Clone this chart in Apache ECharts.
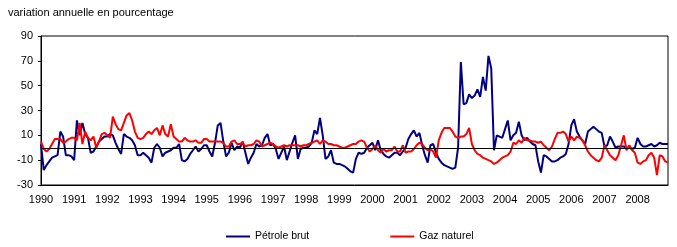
<!DOCTYPE html>
<html>
<head>
<meta charset="utf-8">
<script src="https://cdn.jsdelivr.net/npm/echarts@6/dist/echarts.min.js"></script>
<style>
html,body{margin:0;padding:0;background:#fff;}
#c{width:677px;height:247px;}
</style>
</head>
<body>
<div id="c"></div>
<script>
const title = 'variation annuelle en pourcentage';
const yearLabels = ['1990','1991','1992','1993','1994','1995','1996','1997','1998','1999','2000','2001','2002','2003','2004','2005','2006','2007','2008'];
const monthCodes = ['01','02','03','04','05','06','07','08','09','10','11','12'];
const seriesNames = ['Pétrole brut', 'Gaz naturel'];

// Pétrole brut, monthly, Jan 1990 - Dec 2008
const petrole = [
  3, -18, -14, -11, -8, -7, -6, 13, 9, -6, -6, -7,
  -10, 22, 10, 20, 11, 8, -4, -3, 1, 5, 7, 9,
  9, 11, 10, 4, -1, -5, 11, 9, 8, 6, 2, -6,
  -6, -4, -6, -8, -12, 0, 3, 0, -7, -4, -3, -2,
  0, 0, 3, -10, -11, -9, -5, -2, 1, -3, -1, 2,
  2, -3, -7, 4, 18, 20, 5, -7, -4, 4, -2, 1,
  0, 5, -4, -13, -8, -4, 3, 1, 2, 8, 11, 2,
  3, -1, -9, -4, 1, -10, -3, 4, 10, -9, -1, 0,
  0, 1, 4, 14, 11, 24, 10, -9, -7, -2, -12, -13,
  -13, -14, -15, -17, -19, -20, -9, -4, -5, -4, 0, 2,
  4, -2, 6, -2, -5, -7, -8, -6, -4, -4, -6, -3,
  0, 7, 11, 14, 9, 12, 2, -6, -12, 2, 3, -4,
  -9, -12, -14, -15, -16, -17, -16, 0, 69, 35, 36, 43,
  40, 42, 47, 41, 57, 46, 74, 64, -2, 10, 9, 8,
  15, 22, 6, 10, 12, 21, 10, 6, 8, 5, 3, 2,
  -11, -20, -6, -7, -9, -11, -11, -10, -8, -7, -5, 3,
  18, 23, 13, 9, 6, 3, 13, 15, 17, 15, 13, 12,
  1, 2, 9, 5, 0, 1, 1, 1, 0, 0, -1, 0,
  8, 3, 1, 1, 2, 3, 1, 2, 4, 3, 3, 3
];

// Gaz naturel, monthly, Jan 1990 - Dec 2008
const gaz = [
  5, -1, -3, -1, 3, 7, 7, 7, 4, 5, 7, 8,
  8, 6, 20, 3, 13, 8, 6, 9, 0, 5, 11, 12,
  10, 8, 25, 19, 15, 14, 20, 26, 28, 22, 13, 8,
  7, 8, 11, 13, 11, 14, 16, 10, 18, 11, 9, 19,
  9, 7, 5, 5, 8, 6, 5, 5, 6, 4, 4, 7,
  7, 5, 5, 5, 5, 5, 4, 1, 1, 5, 6, 3,
  3, 4, 1, 2, 2, 3, 6, 5, 1, 2, 3, 4,
  3, 1, 0, 1, 2, 1, 2, 2, 2, 2, 1, 2,
  2, 3, 4, 5, 6, 3, 6, 5, 3, 3, 2, 2,
  1, 0, 0, 1, 2, 3, 3, 5, 6, 5, 0, -3,
  -1, 2, -2, -4, -1, -3, -2, -2, 1, -3, -3, 2,
  -4, -3, -3, -1, 2, 4, 3, 0, -2, -1, -3, -8,
  6, 12, 16, 16, 16, 13, 9, 8, 9, 9, 11, 16,
  3, -2, -5, -6, -8, -9, -10, -11, -13, -12, -10, -8,
  -7, -6, -3, 4, 3, 6, 4, 8, 6, 6, 5, 5,
  4, 5, 2, 0, -2, 1, 7, 12, 12, 13, 11, 5,
  9, 6, 9, 8, 6, 2, -3, -6, -8, -10, -11, -8,
  2, -2, -6, -8, -10, -6, 2, 10, -2, 2, -2, -4,
  -12, -13, -11, -10, -6, -4, -8, -22, -6, -7, -11, -12
];

const categories = [];
yearLabels.forEach(y => monthCodes.forEach(m => categories.push(y + '-' + m)));

const font = 'Arial, "Liberation Sans", sans-serif';
const chart = echarts.init(document.getElementById('c'), null, {renderer: 'canvas'});
chart.setOption({
  animation: false,
  backgroundColor: '#fff',
  textStyle: {fontFamily: font, color: '#000'},
  graphic: [{
    type: 'text', left: 8, top: 7,
    style: {text: title, font: '11px ' + font, fill: '#000'}
  }],
  grid: {left: 41, top: 36, right: 9, bottom: 62, show: true, borderColor: '#000', borderWidth: 1, backgroundColor: 'transparent'},
  legend: {
    left: 226, top: 231, padding: 0, itemGap: 81, itemWidth: 24, itemHeight: 2, icon: 'rect',
    textStyle: {fontFamily: font, fontSize: 10.5, color: '#000'},
    data: seriesNames
  },
  xAxis: {
    type: 'category', data: categories, boundaryGap: false,
    axisLine: {show: true, onZero: false, lineStyle: {color: '#000', width: 1}},
    axisTick: {show: false},
    splitLine: {show: false},
    axisLabel: {
      interval: (i) => i % 12 === 0,
      formatter: (v, i) => yearLabels[Math.floor(i / 12)],
      fontFamily: font, fontSize: 11, color: '#000', margin: 9
    }
  },
  yAxis: {
    type: 'value', min: -30, max: 90, interval: 20,
    axisLine: {show: true, lineStyle: {color: '#000', width: 1}},
    axisTick: {show: true, length: 3, lineStyle: {color: '#000'}},
    splitLine: {show: false},
    axisLabel: {fontFamily: font, fontSize: 11, color: '#000', margin: 8}
  },
  series: [
    {
      name: seriesNames[0], type: 'line', data: petrole, symbol: 'none',
      lineStyle: {color: '#000080', width: 2}, itemStyle: {color: '#000080'},
      markLine: {
        silent: true, symbol: ['none', 'none'], label: {show: false},
        lineStyle: {color: '#000', width: 1, type: 'solid'},
        data: [{yAxis: 0}]
      }
    },
    {
      name: seriesNames[1], type: 'line', data: gaz, symbol: 'none',
      lineStyle: {color: '#ff0000', width: 2}, itemStyle: {color: '#ff0000'}
    }
  ]
});
</script>
</body>
</html>
